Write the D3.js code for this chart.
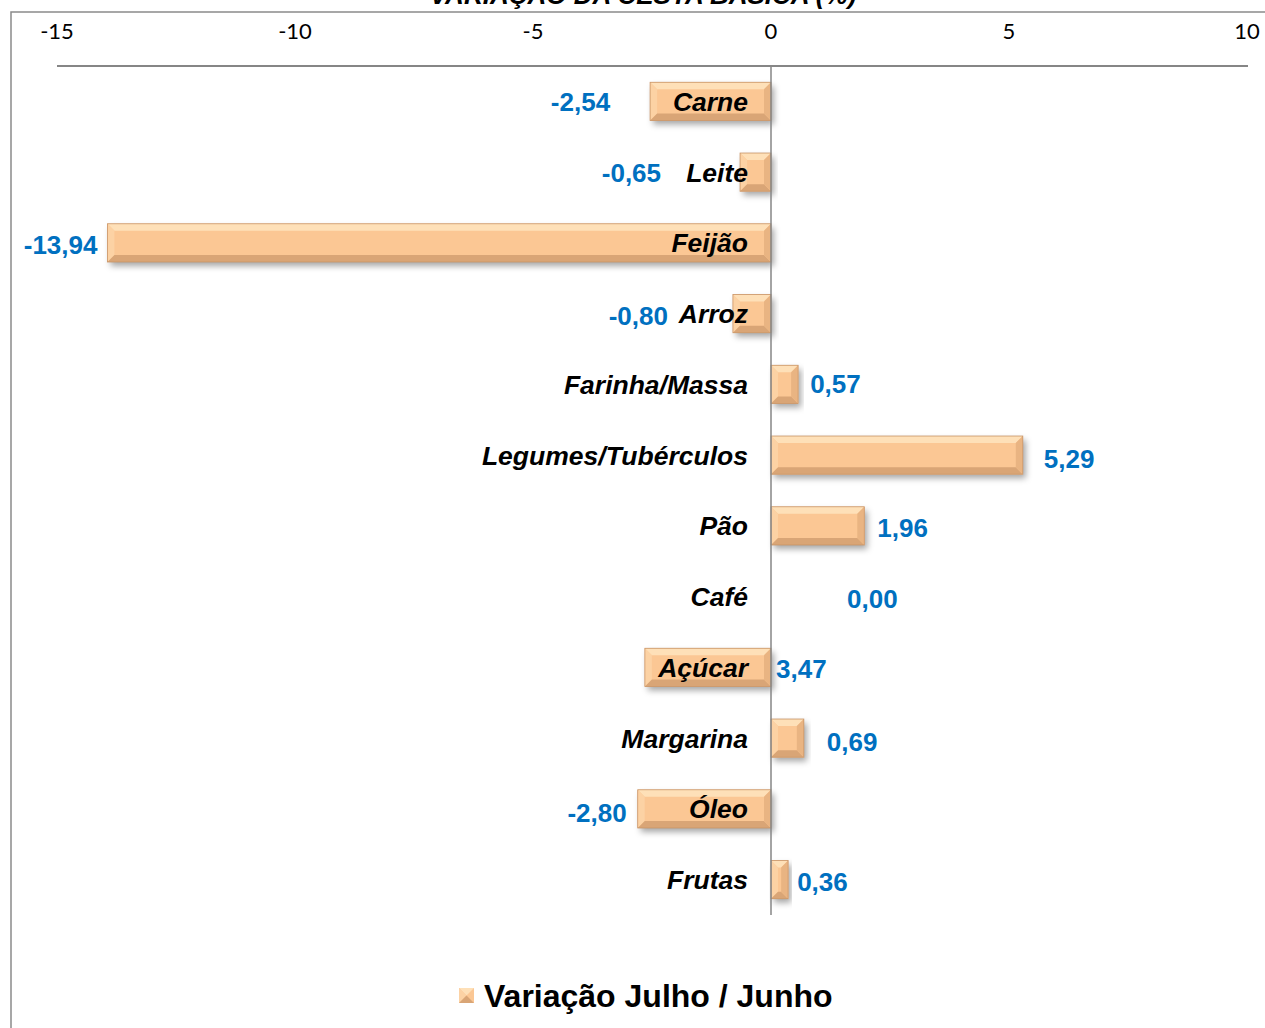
<!DOCTYPE html>
<html lang="pt">
<head>
<meta charset="utf-8">
<script src="https://cdn.jsdelivr.net/npm/d3@7"></script>
<style>
  body { margin: 0; background: #fff; }
  .tick-label { font-family: Lato, "Open Sans", sans-serif; font-size: 22px; fill: #000; }
  .cat { font-family: "Liberation Sans", Arial, sans-serif; font-size: 26.5px; font-weight: bold; font-style: italic; fill: #000; }
  .val { font-family: "Liberation Sans", Arial, sans-serif; font-size: 26px; font-weight: bold; fill: #0070C0; }
</style>
</head>
<body>
<div id="chart"></div>
<script>
// data
var categories = ["Carne", "Leite", "Feijão", "Arroz", "Farinha/Massa", "Legumes/Tubérculos",
                  "Pão", "Café", "Açúcar", "Margarina", "Óleo", "Frutas"];
var labelValues = [-2.54, -0.65, -13.94, -0.80, 0.57, 5.29, 1.96, 0.00, 3.47, 0.69, -2.80, 0.36];
// bar lengths as drawn (Açúcar bar is drawn on the negative side)
var barValues = [-2.54, -0.65, -13.94, -0.80, 0.57, 5.29, 1.96, 0.00, -2.65, 0.69, -2.80, 0.36];
var ticks = [-15, -10, -5, 0, 5, 10];
var seriesName = "Variação Julho / Junho";
var title = "VARIAÇÃO DA CESTA BÁSICA (%)";

// layout tweaks for value labels (px)
var labelGap = [40, 79, 10, 65, 12, 21, 13, 76, 5, 23, 11, 9];
var labelDy  = [0, 1, 2, 2, -1, 4, 2, 2, 1, 4, 4, 2];

var W = 1265, H = 1028;

var svg = d3.select("#chart").append("svg")
    .attr("width", W)
    .attr("height", H);

var defs = svg.append("defs");
var shadow = defs.append("filter").attr("id", "shadow")
    .attr("x", "-10%").attr("y", "-30%").attr("width", "130%").attr("height", "180%");
shadow.append("feDropShadow")
    .attr("dx", 3).attr("dy", 4).attr("stdDeviation", 3)
    .attr("flood-color", "#000").attr("flood-opacity", 0.35);

// frame
svg.append("rect")
    .attr("x", 11).attr("y", 12)
    .attr("width", W + 20).attr("height", H + 20)
    .attr("fill", "none")
    .attr("stroke", "#8a8a8a")
    .attr("stroke-width", 1.5);

// title (mostly cropped off the top, as in the original)
svg.append("text")
    .attr("x", 643).attr("y", 4)
    .attr("text-anchor", "middle")
    .style("font-family", "'Liberation Sans', Arial, sans-serif")
    .style("font-size", "26px")
    .style("font-weight", "bold")
    .style("font-style", "italic")
    .text(title);

var x = d3.scaleLinear().domain([-15, 10]).range([57, 1247]);
var y = d3.scaleBand().domain(categories).range([66, 915]).paddingInner(0.46).paddingOuter(0.23);

// top axis line + tick labels
svg.append("line")
    .attr("x1", x(-15)).attr("x2", x(10) + 1)
    .attr("y1", 66).attr("y2", 66)
    .attr("stroke", "#868686").attr("stroke-width", 2);

svg.selectAll(".tick-label")
    .data(ticks)
    .enter().append("text")
    .attr("class", "tick-label")
    .attr("x", function(d) { return x(d); })
    .attr("y", 39)
    .attr("text-anchor", "middle")
    .text(function(d) { return d; });

// bars with bevel
var bev = 7;
var bars = svg.selectAll(".bar")
    .data(categories.map(function(c, i) { return {cat: c, v: barValues[i], lab: labelValues[i], i: i}; }))
    .enter().append("g")
    .attr("class", "bar");

bars.each(function(d) {
    if (d.v === 0) return;
    var g = d3.select(this);
    var x0 = x(Math.min(0, d.v)), x1 = x(Math.max(0, d.v));
    var y0 = y(d.cat), y1 = y0 + y.bandwidth();
    var b = Math.min(bev, (x1 - x0) / 2);
    var bt = Math.min(bev, y.bandwidth() / 2);
    g.append("rect")
        .attr("x", x0).attr("y", y0)
        .attr("width", x1 - x0).attr("height", y1 - y0)
        .attr("fill", "#FBC794")
        .attr("filter", "url(#shadow)");
    function poly(pts, col) {
        g.append("polygon")
            .attr("points", pts.map(function(p) { return p.join(","); }).join(" "))
            .attr("fill", col);
    }
    poly([[x0, y0], [x1, y0], [x1 - b, y0 + bt], [x0 + b, y0 + bt]], "#FEE0B8");
    poly([[x0, y0], [x0 + b, y0 + bt], [x0 + b, y1 - bt], [x0, y1]], "#FCD2A4");
    poly([[x0, y1], [x0 + b, y1 - bt], [x1 - b, y1 - bt], [x1, y1]], "#D9A576");
    poly([[x1, y0], [x1, y1], [x1 - b, y1 - bt], [x1 - b, y0 + bt]], "#E9B482");
    g.append("rect")
        .attr("x", x0).attr("y", y0)
        .attr("width", x1 - x0).attr("height", y1 - y0)
        .attr("fill", "none")
        .attr("stroke", "#C99466").attr("stroke-width", 0.8);
});

// zero line
svg.append("line")
    .attr("x1", x(0)).attr("x2", x(0))
    .attr("y1", 66).attr("y2", 915)
    .attr("stroke", "#868686").attr("stroke-width", 1.5);

// category labels
svg.selectAll(".cat")
    .data(categories)
    .enter().append("text")
    .attr("class", "cat")
    .attr("x", x(0) - 23)
    .attr("y", function(d) { return y(d) + y.bandwidth() / 2; })
    .attr("dy", "0.36em")
    .attr("text-anchor", "end")
    .text(function(d) { return d; });

// value labels
var fmt = function(v) { return d3.format(".2f")(v).replace(".", ",").replace("−", "-"); };
svg.selectAll(".val")
    .data(categories.map(function(c, i) { return {cat: c, v: barValues[i], lab: labelValues[i], i: i}; }))
    .enter().append("text")
    .attr("class", "val")
    .attr("x", function(d) {
        return d.lab >= 0 ? x(Math.max(0, d.v)) + labelGap[d.i] : x(Math.min(0, d.v)) - labelGap[d.i];
    })
    .attr("y", function(d) { return y(d.cat) + y.bandwidth() / 2 + labelDy[d.i]; })
    .attr("dy", "0.36em")
    .attr("text-anchor", function(d) { return d.lab >= 0 ? "start" : "end"; })
    .text(function(d) { return fmt(d.lab); });

// legend
var lg = svg.append("g").attr("transform", "translate(459,988)");
var s = 15;
lg.append("rect").attr("width", s).attr("height", s).attr("fill", "#FBC794");
lg.append("polygon").attr("points", [[0,0],[s,0],[s/2,s/2]].join(" ")).attr("fill", "#FEE0B8");
lg.append("polygon").attr("points", [[0,0],[s/2,s/2],[0,s]].join(" ")).attr("fill", "#FCD2A4");
lg.append("polygon").attr("points", [[0,s],[s,s],[s/2,s/2]].join(" ")).attr("fill", "#D9A576");
lg.append("text")
    .attr("x", 25).attr("y", 7.5)
    .attr("dy", "0.36em")
    .style("font-family", "'Liberation Sans', Arial, sans-serif")
    .style("font-size", "32px")
    .style("font-weight", "bold")
    .text(seriesName);
</script>
</body>
</html>
